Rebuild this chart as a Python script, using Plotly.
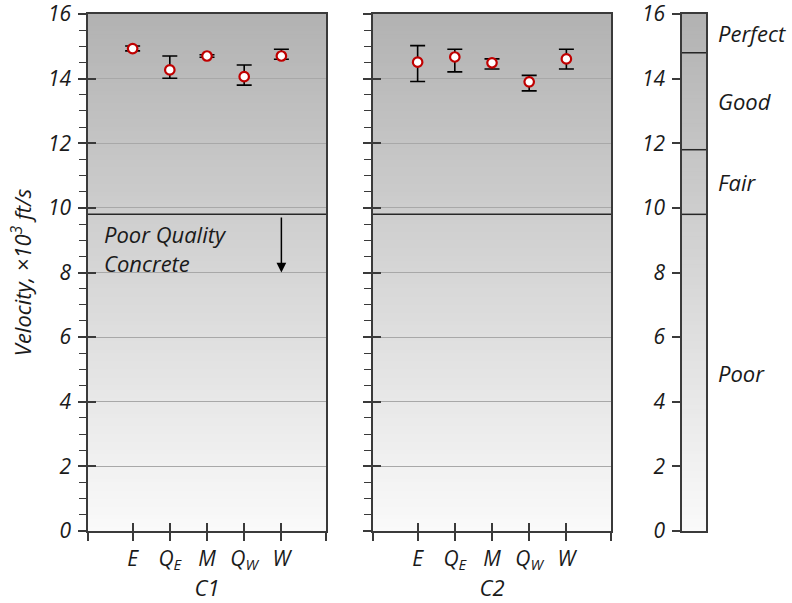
import plotly.graph_objects as go
import numpy as np

# ---- data ----
categories = ["E", "Q<sub>E</sub>", "M", "Q<sub>W</sub>", "W"]
cat_pos = [1, 2, 3, 4, 5]
panel_names = ["C1", "C2"]

c1_vel = [14.93, 14.27, 14.70, 14.06, 14.70]
c1_plus = [0.08, 0.43, 0.04, 0.36, 0.21]
c1_minus = [0.07, 0.26, 0.04, 0.26, 0.10]

c2_vel = [14.51, 14.67, 14.49, 13.90, 14.61]
c2_plus = [0.51, 0.24, 0.12, 0.20, 0.30]
c2_minus = [0.60, 0.46, 0.19, 0.28, 0.31]

quality_bounds = [0, 9.8, 11.8, 14.8, 16]
quality_labels = ["Poor", "Fair", "Good", "Perfect"]

y_ticks = [0, 2, 4, 6, 8, 10, 12, 14, 16]
poor_arrow_tip = 8.0

# ---- style ----
FONT = "Open Sans"
FS = 22
FT = 21
TXT = "#1a1a1a"
AXC = "#3a3a3a"
W, H = 792, 603
ML, MT = 88, 14
MR, MB = 792 - 706, 603 - 531
PW = W - ML - MR


def fnt(size=FS):
    return dict(family=FONT, size=size, color=TXT, style="italic")


def px2dom(x0, x1):
    return [(x0 - ML) / PW, (x1 - ML) / PW]


dom1 = px2dom(88, 326)
dom2 = px2dom(373, 611)
dom3 = px2dom(682, 706)
xr = [-0.2, 6.2]

fig = go.Figure()

for i, (vel, pl, mi) in enumerate([(c1_vel, c1_plus, c1_minus), (c2_vel, c2_plus, c2_minus)]):
    xa = "x" if i == 0 else "x2"
    ya = "y" if i == 0 else "y2"
    fig.add_trace(go.Scatter(
        x=cat_pos, y=vel, mode="markers", xaxis=xa, yaxis=ya,
        marker=dict(size=9.5, color="white", line=dict(color="#c00000", width=2.2)),
        error_y=dict(type="data", symmetric=False, array=pl, arrayminus=mi,
                     color="black", thickness=1.6, width=7.5),
        showlegend=False, hoverinfo="skip"))

for xa, ya in [("x", "y4"), ("x4", "y"), ("x2", "y5"), ("x5", "y2"), ("x3", "y3")]:
    fig.add_trace(go.Scatter(x=[None], y=[None], xaxis=xa, yaxis=ya, mode="markers",
                             showlegend=False, hoverinfo="skip"))

# gradient background as thin overlapping bands, below the grid
band_edges = np.linspace(0, 16, 129)
step = band_edges[1] - band_edges[0]
shapes = []
for xref, yref in [("x domain", "y"), ("x2 domain", "y2"), ("x3 domain", "y3")]:
    for a, b in zip(band_edges[:-1], band_edges[1:]):
        m = (a + b) / 2
        g = int(round(250 - (250 - 178) * m / 16))
        shapes.append(dict(type="rect", xref=xref, yref=yref, x0=0, x1=1, y0=a,
                           y1=min(b + step * 0.6, 16),
                           fillcolor=f"rgb({g},{g},{g})", line=dict(width=0), layer="below"))

for xref, yref in [("x domain", "y"), ("x2 domain", "y2")]:
    shapes.append(dict(type="line", xref=xref, yref=yref, x0=0, x1=1,
                       y0=quality_bounds[1], y1=quality_bounds[1],
                       line=dict(color="#262626", width=1.5)))
for b in quality_bounds[1:-1]:
    shapes.append(dict(type="line", xref="x3 domain", yref="y3", x0=0, x1=1, y0=b, y1=b,
                       line=dict(color="#262626", width=1.5)))
fig.update_layout(shapes=shapes)

tickvals_x = [xr[0]] + cat_pos + [xr[1]]
ticktext_x = [""] + categories + [""]

common_x = dict(range=xr, tickvals=tickvals_x, ticktext=ticktext_x, ticks="outside",
                ticklen=8, tickwidth=1.5, tickcolor=AXC, showline=True, linecolor=AXC,
                linewidth=1.5, mirror=True, showgrid=False, zeroline=False,
                tickfont=fnt(FT), automargin=False, ticklabeloverflow="allow")
common_y = dict(range=[0, 16], tickvals=y_ticks, ticks="outside", ticklen=8, tickwidth=1.5,
                tickcolor=AXC, showline=True, linecolor=AXC, linewidth=1.5, mirror=True,
                showgrid=True, gridcolor="#a8a8a8", gridwidth=1, zeroline=False,
                minor=dict(dtick=0.5, ticks="outside", ticklen=7, tickwidth=1.2,
                           tickcolor=AXC, showgrid=False),
                tickfont=fnt(FT), ticklabelstandoff=3, automargin=False,
                ticklabeloverflow="allow")
inner_x = dict(range=xr, tickvals=tickvals_x[1:-1], ticks="inside", ticklen=8, tickwidth=1.5,
               tickcolor=AXC, showticklabels=False, showline=False, showgrid=False,
               zeroline=False, side="bottom", automargin=False)
inner_y = dict(range=[0, 16], tickvals=y_ticks, ticks="inside", ticklen=8, tickwidth=1.5,
               tickcolor=AXC, showticklabels=False, showline=False, showgrid=False,
               zeroline=False, side="left", automargin=False)

fig.update_layout(
    width=W, height=H,
    margin=dict(l=ML, r=MR, t=MT, b=MB, autoexpand=False),
    paper_bgcolor="white", plot_bgcolor="white",
    font=fnt(),
    xaxis=dict(domain=dom1, anchor="y",
               title=dict(text=panel_names[0], standoff=0, font=fnt()), **common_x),
    yaxis=dict(domain=[0, 1], anchor="x",
               title=dict(text="Velocity, ×10<sup>3</sup> ft/s", standoff=10, font=fnt()),
               **common_y),
    xaxis2=dict(domain=dom2, anchor="y2",
                title=dict(text=panel_names[1], standoff=0, font=fnt()), **common_x),
    yaxis2=dict(domain=[0, 1], anchor="x2", showticklabels=False, **common_y),
    xaxis3=dict(domain=dom3, anchor="y3", range=[0, 1], showticklabels=False, ticks="",
                showline=True, linecolor=AXC, linewidth=1.5, mirror=True, showgrid=False,
                zeroline=False, automargin=False),
    yaxis3=dict(domain=[0, 1], anchor="x3", range=[0, 16], tickvals=y_ticks, ticks="outside",
                ticklen=8, tickwidth=1.5, tickcolor=AXC, showline=True, linecolor=AXC,
                linewidth=1.5, mirror=True, showgrid=False, zeroline=False,
                tickfont=fnt(FT), ticklabelstandoff=3, automargin=False,
                ticklabeloverflow="allow"),
    xaxis4=dict(overlaying="x", anchor="y", **inner_x),
    yaxis4=dict(overlaying="y", anchor="x", **inner_y),
    xaxis5=dict(overlaying="x2", anchor="y2", **inner_x),
    yaxis5=dict(overlaying="y2", anchor="x2", **inner_y),
)

annotations = []
lab_x = (716 - ML) / PW
for lab, a, b in zip(quality_labels, quality_bounds[:-1], quality_bounds[1:]):
    annotations.append(dict(text=lab, xref="paper", yref="y3", x=lab_x, y=(a + b) / 2,
                            xanchor="left", yanchor="middle", showarrow=False, font=fnt()))
annotations.append(dict(text="Poor Quality<br>Concrete", xref="x", yref="y", x=0.17, y=8.73,
                        xanchor="left", yanchor="middle", align="left", showarrow=False,
                        font=fnt()))
annotations.append(dict(text="", xref="x", yref="y", x=cat_pos[-1], y=poor_arrow_tip,
                        axref="x", ayref="y", ax=cat_pos[-1], ay=quality_bounds[1] - 0.05,
                        showarrow=True, arrowhead=2, arrowsize=1.3, arrowwidth=1.5,
                        arrowcolor="black", standoff=0))
fig.update_layout(annotations=annotations)

fig.write_html("out.html", config={"displayModeBar": False},
               post_script="document.body.style.margin='0';")
